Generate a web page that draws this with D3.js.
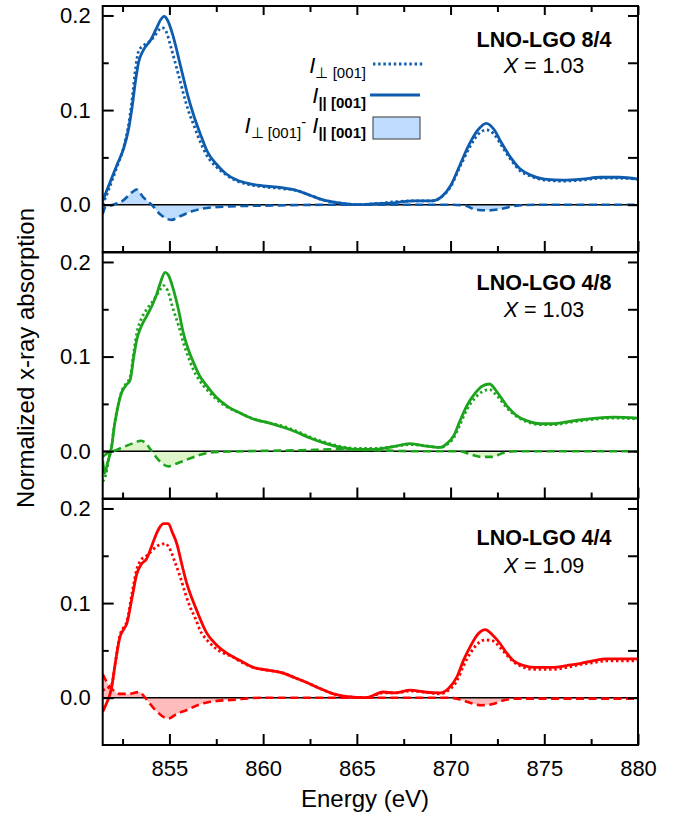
<!DOCTYPE html>
<html>
<head>
<meta charset="utf-8">
<script src="https://cdn.jsdelivr.net/npm/d3@7"></script>
<style>
  body { margin: 0; background: #fff; }
  svg { font-family: "Liberation Sans", Arial, sans-serif; }
</style>
</head>
<body>
<div id="chart"></div>
<script>
// ---------- data (energy eV, normalized absorption) ----------
var xDomain = [851.44, 880];
var yDomain = [-0.05, 0.21];
var xMajor = [855, 860, 865, 870, 875, 880];
var xMinor = [852.5, 857.5, 862.5, 867.5, 872.5, 877.5];
var yMajor = [0, 0.1, 0.2];
var yMinor = [0.05, 0.15];

var sampleNames = ['LNO-LGO 8/4', 'LNO-LGO 4/8', 'LNO-LGO 4/4'];
var sampleX = ['1.03', '1.03', '1.09'];

var blueSolid = [[851.44,0.004],[851.8,0.022],[852.2,0.042],[852.55,0.059],[852.8,0.078],[853.0,0.102],[853.2,0.132],[853.35,0.150],[853.6,0.163],[854.0,0.174],[854.3,0.186],[854.55,0.196],[854.72,0.199],[854.9,0.195],[855.2,0.178],[855.6,0.146],[856.0,0.114],[856.3,0.094],[856.7,0.072],[857.0,0.057],[857.5,0.043],[858.0,0.033],[858.6,0.026],[859.3,0.022],[860.0,0.020],[861.0,0.018],[861.8,0.015],[862.5,0.010],[863.2,0.005],[864.0,0.002],[865.0,0.000],[866.0,0.001],[867.0,0.002],[868.0,0.004],[869.0,0.004],[869.5,0.008],[870.0,0.020],[870.5,0.042],[871.0,0.064],[871.5,0.080],[871.9,0.086],[872.3,0.080],[872.7,0.066],[873.2,0.050],[873.7,0.038],[874.3,0.031],[875.0,0.027],[876.0,0.026],[877.0,0.027],[878.0,0.029],[879.0,0.029],[880.0,0.027]];
var blueDotted = [[851.44,0.000],[851.8,0.018],[852.2,0.040],[852.55,0.060],[852.8,0.082],[853.0,0.110],[853.2,0.145],[853.35,0.162],[853.6,0.168],[853.9,0.172],[854.2,0.178],[854.45,0.185],[854.62,0.187],[854.8,0.184],[855.1,0.165],[855.5,0.136],[856.0,0.100],[856.3,0.084],[856.7,0.064],[857.0,0.052],[857.5,0.040],[858.0,0.032],[858.6,0.025],[859.3,0.021],[860.0,0.019],[861.0,0.017],[861.8,0.015],[862.5,0.010],[863.2,0.005],[864.0,0.002],[865.0,0.000],[866.0,0.001],[867.0,0.003],[868.0,0.004],[869.0,0.004],[869.5,0.008],[870.0,0.019],[870.5,0.040],[871.0,0.060],[871.5,0.075],[871.9,0.079],[872.3,0.075],[872.7,0.063],[873.2,0.048],[873.7,0.036],[874.3,0.030],[875.0,0.026],[876.0,0.025],[877.0,0.026],[878.0,0.028],[879.0,0.028],[880.0,0.027]];
var blueDiff = [[851.44,-0.010],[851.6,-0.002],[852.0,0.000],[852.5,0.004],[853.0,0.013],[853.25,0.016],[853.6,0.008],[854.05,0.000],[854.5,-0.010],[855.1,-0.016],[855.6,-0.012],[856.2,-0.007],[856.8,-0.004],[858.0,-0.002],[860.0,-0.001],[865.0,0.000],[870.0,0.000],[870.8,-0.001],[871.3,-0.005],[872.0,-0.006],[872.8,-0.004],[873.5,-0.001],[875.0,0.000],[880.0,0.000]];

var greenSolid = [[851.44,-0.010],[851.55,-0.023],[851.7,-0.012],[851.92,0.005],[852.05,0.025],[852.19,0.041],[852.45,0.062],[852.7,0.070],[852.9,0.075],[853.1,0.100],[853.26,0.118],[853.5,0.132],[853.79,0.143],[854.1,0.155],[854.32,0.166],[854.55,0.180],[854.77,0.189],[854.95,0.186],[855.21,0.171],[855.5,0.148],[855.74,0.125],[856.0,0.108],[856.28,0.094],[856.6,0.080],[857.0,0.069],[857.5,0.057],[858.06,0.048],[858.8,0.040],[859.48,0.034],[860.3,0.030],[861.1,0.025],[861.8,0.020],[862.5,0.014],[863.2,0.009],[863.9,0.005],[865.0,0.002],[866.0,0.002],[867.0,0.005],[867.8,0.008],[868.5,0.006],[869.45,0.004],[869.8,0.008],[870.16,0.016],[870.5,0.032],[870.87,0.048],[871.3,0.061],[871.7,0.069],[872.08,0.071],[872.5,0.062],[873.0,0.048],[873.5,0.038],[874.1,0.032],[874.8,0.029],[875.5,0.029],[876.2,0.031],[876.9,0.033],[877.8,0.035],[878.7,0.036],[880.0,0.035]];
var greenDotted = [[851.44,-0.032],[851.6,-0.025],[851.75,-0.010],[851.92,0.006],[852.05,0.026],[852.19,0.042],[852.45,0.063],[852.7,0.072],[852.9,0.078],[853.1,0.105],[853.26,0.125],[853.5,0.140],[853.79,0.150],[854.1,0.158],[854.35,0.166],[854.55,0.172],[854.68,0.175],[854.9,0.170],[855.2,0.150],[855.5,0.132],[855.74,0.115],[856.0,0.100],[856.28,0.086],[856.6,0.075],[857.0,0.065],[857.5,0.055],[858.06,0.047],[858.8,0.040],[859.48,0.034],[860.3,0.030],[861.1,0.026],[861.8,0.021],[862.5,0.015],[863.2,0.010],[863.9,0.006],[865.0,0.003],[866.0,0.003],[867.0,0.005],[867.8,0.007],[868.5,0.006],[869.45,0.004],[869.8,0.007],[870.16,0.014],[870.5,0.028],[870.87,0.044],[871.3,0.056],[871.7,0.063],[872.08,0.065],[872.5,0.058],[873.0,0.046],[873.5,0.037],[874.1,0.031],[874.8,0.028],[875.5,0.028],[876.2,0.030],[876.9,0.032],[877.8,0.034],[878.7,0.035],[880.0,0.034]];
var greenDiff = [[851.44,-0.006],[851.7,-0.002],[852.0,0.000],[852.5,0.004],[853.0,0.008],[853.5,0.011],[853.8,0.007],[854.06,0.000],[854.5,-0.011],[854.94,-0.016],[855.4,-0.013],[855.92,-0.009],[856.6,-0.004],[857.35,-0.001],[859.0,0.000],[862.0,0.001],[864.0,0.002],[866.0,0.001],[868.0,0.000],[870.5,0.000],[871.0,-0.003],[871.6,-0.006],[872.2,-0.006],[872.8,-0.002],[873.5,0.000],[880.0,0.000]];

var redSolid = [[851.44,-0.015],[851.6,-0.008],[851.92,0.011],[852.1,0.035],[852.36,0.064],[852.55,0.072],[852.72,0.078],[853.0,0.105],[853.26,0.131],[853.5,0.141],[853.79,0.147],[854.05,0.160],[854.32,0.174],[854.55,0.182],[854.68,0.184],[854.94,0.184],[855.15,0.175],[855.39,0.163],[855.65,0.142],[855.92,0.121],[856.2,0.105],[856.46,0.092],[857.0,0.068],[857.5,0.056],[858.06,0.047],[858.8,0.039],[859.48,0.032],[860.3,0.029],[861.08,0.026],[861.7,0.021],[862.33,0.016],[863.0,0.010],[863.75,0.004],[864.5,0.001],[865.5,0.000],[866.4,0.006],[867.0,0.005],[867.85,0.008],[868.6,0.006],[869.45,0.005],[869.9,0.010],[870.34,0.022],[870.7,0.040],[871.05,0.054],[871.5,0.068],[871.85,0.072],[872.25,0.066],[872.65,0.057],[873.0,0.047],[873.36,0.039],[873.9,0.034],[874.43,0.032],[875.5,0.032],[876.2,0.034],[876.9,0.036],[877.6,0.039],[878.35,0.041],[879.2,0.041],[880.0,0.041]];
var redDotted = [[851.44,0.008],[851.7,0.010],[851.92,0.014],[852.1,0.035],[852.36,0.066],[852.55,0.074],[852.72,0.080],[853.0,0.110],[853.26,0.136],[853.5,0.146],[853.79,0.150],[854.05,0.155],[854.32,0.160],[854.55,0.162],[854.77,0.163],[855.0,0.158],[855.3,0.143],[855.57,0.128],[855.85,0.110],[856.1,0.096],[856.4,0.083],[856.64,0.071],[857.0,0.061],[857.35,0.054],[857.9,0.047],[858.4,0.043],[858.8,0.038],[859.48,0.032],[860.3,0.029],[861.08,0.026],[861.7,0.021],[862.33,0.016],[863.0,0.010],[863.75,0.004],[864.5,0.001],[865.5,0.000],[866.4,0.005],[867.0,0.005],[867.85,0.007],[868.6,0.006],[869.45,0.004],[869.9,0.008],[870.34,0.018],[870.7,0.034],[871.05,0.047],[871.5,0.058],[871.85,0.061],[872.25,0.060],[872.65,0.053],[873.0,0.045],[873.36,0.038],[873.9,0.032],[874.43,0.030],[875.5,0.030],[876.2,0.032],[876.9,0.035],[877.6,0.037],[878.35,0.039],[879.2,0.039],[880.0,0.039]];
var redDiff = [[851.44,0.025],[851.7,0.015],[852.0,0.008],[852.36,0.004],[852.8,0.004],[853.4,0.006],[853.7,0.000],[854.2,-0.012],[854.94,-0.022],[855.4,-0.017],[855.92,-0.013],[856.5,-0.008],[857.0,-0.005],[858.5,-0.002],[860.0,0.000],[866.0,0.000],[870.0,0.000],[870.5,-0.002],[871.0,-0.005],[871.6,-0.008],[872.2,-0.007],[872.8,-0.003],[873.5,-0.001],[880.0,-0.001]];

///////////// LAYOUT
var W = 685, H = 817;
var left = 102.7, right = 638;
var panelTops = [6, 252.5, 499];
var panelH = 246;

var panels = [
    { solid: blueSolid, dotted: blueDotted, diff: blueDiff, color: '#0d5cae', fill: '#bddcff', nameY: 47, xY: 73 },
    { solid: greenSolid, dotted: greenDotted, diff: greenDiff, color: '#1ca51c', fill: '#ddf5c8', nameY: 290, xY: 317 },
    { solid: redSolid, dotted: redDotted, diff: redDiff, color: '#ff0000', fill: '#ffbcbc', nameY: 545, xY: 573 }
];

var svg = d3.select('#chart').append('svg')
    .attr('width', W)
    .attr('height', H);

var x = d3.scaleLinear().domain(xDomain).range([left, right]);

panels.forEach(function(p, i) {
    drawPanel(p, i);
});

function drawPanel(p, i) {
    var top = panelTops[i];
    var y = d3.scaleLinear().domain(yDomain).range([top + panelH, top]);
    var g = svg.append('g');

    g.append('clipPath').attr('id', 'clip' + i)
        .append('rect')
        .attr('x', left).attr('y', top)
        .attr('width', right - left).attr('height', panelH);

    var plot = g.append('g').attr('clip-path', 'url(#clip' + i + ')');

    var line = d3.line()
        .x(function(d) { return x(d[0]); })
        .y(function(d) { return y(d[1]); })
        .curve(d3.curveMonotoneX);

    var area = d3.area()
        .x(function(d) { return x(d[0]); })
        .y0(y(0))
        .y1(function(d) { return y(d[1]); })
        .curve(d3.curveMonotoneX);

    plot.append('path')
        .datum(p.diff)
        .attr('d', area)
        .attr('fill', p.fill);

    plot.append('line')
        .attr('x1', left).attr('x2', right)
        .attr('y1', y(0)).attr('y2', y(0))
        .attr('stroke', '#000')
        .attr('stroke-width', 1.6);

    plot.append('path')
        .datum(p.diff)
        .attr('d', line)
        .attr('fill', 'none')
        .attr('stroke', p.color)
        .attr('stroke-width', 2.6)
        .attr('stroke-dasharray', '8,4.5');

    plot.append('path')
        .datum(p.dotted)
        .attr('d', line)
        .attr('fill', 'none')
        .attr('stroke', p.color)
        .attr('stroke-width', 2.8)
        .attr('stroke-dasharray', '2.4,2.8');

    plot.append('path')
        .datum(p.solid)
        .attr('d', line)
        .attr('fill', 'none')
        .attr('stroke', p.color)
        .attr('stroke-width', 2.8)
        .attr('stroke-linejoin', 'round');

    // axes, ticks pointing inward
    g.append('g')
        .attr('class', 'axis')
        .attr('transform', 'translate(' + left + ',0)')
        .call(d3.axisLeft(y).tickValues(yMajor).tickFormat(d3.format('.1f'))
            .tickSizeInner(-11).tickSizeOuter(0).tickPadding(12));
    g.append('g')
        .attr('class', 'axis')
        .attr('transform', 'translate(' + left + ',0)')
        .call(d3.axisLeft(y).tickValues(yMinor).tickFormat('')
            .tickSizeInner(-6).tickSizeOuter(0));
    g.append('g')
        .attr('class', 'axis')
        .attr('transform', 'translate(' + right + ',0)')
        .call(d3.axisRight(y).tickValues(yMajor.concat(yMinor)).tickFormat('')
            .tickSizeInner(-10).tickSizeOuter(0));

    var bottom = g.append('g')
        .attr('class', 'axis')
        .attr('transform', 'translate(0,' + (top + panelH) + ')')
        .call(d3.axisBottom(x).tickValues(xMajor).tickFormat(d3.format('d'))
            .tickSizeInner(-11).tickSizeOuter(0).tickPadding(15));
    if (i < 2) bottom.selectAll('text').remove();
    g.append('g')
        .attr('class', 'axis')
        .attr('transform', 'translate(0,' + (top + panelH) + ')')
        .call(d3.axisBottom(x).tickValues(xMinor).tickFormat('')
            .tickSizeInner(-6).tickSizeOuter(0));

    if (i === 0) {
        g.append('g')
            .attr('class', 'axis')
            .attr('transform', 'translate(0,' + top + ')')
            .call(d3.axisTop(x).tickValues(xMajor).tickFormat('')
                .tickSizeInner(-9).tickSizeOuter(0));
        g.append('g')
            .attr('class', 'axis')
            .attr('transform', 'translate(0,' + top + ')')
            .call(d3.axisTop(x).tickValues(xMinor).tickFormat('')
                .tickSizeInner(-6).tickSizeOuter(0));
    }

    g.append('rect')
        .attr('x', left).attr('y', top)
        .attr('width', right - left).attr('height', panelH)
        .attr('fill', 'none')
        .attr('stroke', '#000')
        .attr('stroke-width', 2);

    // sample label
    g.append('text')
        .attr('x', 544).attr('y', p.nameY)
        .attr('text-anchor', 'middle')
        .style('font-size', '21.5px')
        .style('font-weight', 'bold')
        .text(sampleNames[i]);
    var xt = g.append('text')
        .attr('x', 544).attr('y', p.xY)
        .attr('text-anchor', 'middle')
        .style('font-size', '21.5px');
    xt.append('tspan').style('font-style', 'italic').text('X');
    xt.append('tspan').text(' = ' + sampleX[i]);
}

svg.selectAll('.axis path.domain').remove();
svg.selectAll('.axis line').attr('stroke', '#000').attr('stroke-width', 2);
svg.selectAll('.axis text')
    .attr('fill', '#000')
    .style('font-size', '22px')
    .style('font-family', '"Liberation Sans", Arial, sans-serif');

// axis titles
svg.append('text')
    .attr('x', 365).attr('y', 807)
    .attr('text-anchor', 'middle')
    .style('font-size', '24px')
    .text('Energy (eV)');

svg.append('text')
    .attr('transform', 'translate(34,' + 358 + ') rotate(-90)')
    .attr('text-anchor', 'middle')
    .style('font-size', '24px')
    .text('Normalized x-ray absorption');

///////////// LEGEND
var legColor = panels[0].color;
var legX = 366;
var legRows = [
    { y: 73, parts: [['I', ''], ['\u22A5 [001]', 'sub']], kind: 'dotted', ly: 64 },
    { y: 103, parts: [['I', ''], ['|| [001]', 'subb']], kind: 'solid', ly: 95 },
    { y: 133, parts: [['I', ''], ['\u22A5 [001]', 'sub'], ['-', 'sup'], [' I', ''], ['|| [001]', 'subb']], kind: 'box', ly: 128 }
];

legRows.forEach(function(r) {
    var t = svg.append('text')
        .attr('x', legX).attr('y', r.y)
        .attr('text-anchor', 'end');
    var shift = 0;
    r.parts.forEach(function(pt) {
        var target = 0;
        if (pt[1] === 'sub' || pt[1] === 'subb') target = 5;
        if (pt[1] === 'sup') target = -6;
        var ts = t.append('tspan')
            .attr('dy', target - shift)
            .text(pt[0]);
        shift = target;
        if (pt[1] === '') {
            ts.style('font-size', '22px').style('font-style', 'italic');
        } else {
            ts.style('font-size', '15px');
        }
        if (pt[1] === 'subb') ts.style('font-weight', 'bold');
    });

    if (r.kind === 'dotted') {
        svg.append('line')
            .attr('x1', 373).attr('x2', 423).attr('y1', r.ly).attr('y2', r.ly)
            .attr('stroke', legColor).attr('stroke-width', 2.8)
            .attr('stroke-dasharray', '2.4,2.8');
    } else if (r.kind === 'solid') {
        svg.append('line')
            .attr('x1', 370).attr('x2', 420).attr('y1', r.ly).attr('y2', r.ly)
            .attr('stroke', legColor).attr('stroke-width', 2.8);
    } else {
        svg.append('rect')
            .attr('x', 373).attr('y', 117)
            .attr('width', 47).attr('height', 22)
            .attr('fill', panels[0].fill)
            .attr('stroke', '#555')
            .attr('stroke-width', 1.2);
    }
});
</script>
</body>
</html>
